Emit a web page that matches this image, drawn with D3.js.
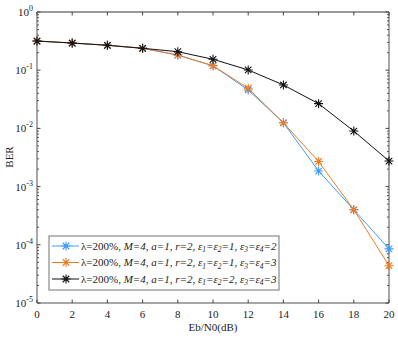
<!DOCTYPE html>
<html><head><meta charset="utf-8">
<script src="https://cdn.jsdelivr.net/npm/d3@7"></script>
<style>body{margin:0;background:#fff}svg{display:block}text{font-family:"Liberation Serif","Times New Roman",serif}</style>
</head><body>
<svg id="c" width="398" height="340"></svg>
<script>
const snr = [0,2,4,6,8,10,12,14,16,18,20];
const ber1 = [0.317,0.293,0.268,0.238,0.182,0.119,0.0457,0.0125,0.00185,0.0004,0.000085];
const ber2 = [0.317,0.293,0.268,0.238,0.182,0.119,0.049,0.0125,0.0027,0.0004,0.0000437];
const ber3 = [0.317,0.293,0.268,0.238,0.208,0.154,0.101,0.0557,0.0266,0.009,0.00275];
const xTicks = [0,2,4,6,8,10,12,14,16,18,20];
const yExps = [0,-1,-2,-3,-4,-5];
const colors = ["#3d9bff","#f07a22","#111111"];
const legendEps = [["1","1","2"],["1","1","3"],["2","2","3"]];

const svg = d3.select("#c");
const L=37,R=389,T=12,B=303;
const x = d3.scaleLinear().domain([0,20]).range([L,R]);
const y = d3.scaleLog().domain([1e-5,1]).range([B,T]);

const axisGray="#8a8a8a";
svg.append("line").attr("x1",L).attr("x2",R).attr("y1",T).attr("y2",T).attr("stroke","#333").attr("stroke-width",1);
svg.append("line").attr("x1",L).attr("x2",R).attr("y1",B).attr("y2",B).attr("stroke",axisGray).attr("stroke-width",1.5);
svg.append("line").attr("x1",L).attr("x2",L).attr("y1",T).attr("y2",B).attr("stroke",axisGray).attr("stroke-width",1.5);
svg.append("line").attr("x1",R).attr("x2",R).attr("y1",T).attr("y2",B).attr("stroke",axisGray).attr("stroke-width",1.5);

const gx = svg.append("g");
xTicks.forEach(t=>{
  gx.append("line").attr("x1",x(t)).attr("x2",x(t)).attr("y1",B).attr("y2",B-3.5).attr("stroke","#444");
  gx.append("line").attr("x1",x(t)).attr("x2",x(t)).attr("y1",T).attr("y2",T+3.5).attr("stroke","#444");
  gx.append("text").attr("x",x(t)).attr("y",B+15).attr("text-anchor","middle").attr("font-size",11).attr("fill","#222").text(t);
});
const gy = svg.append("g");
yExps.forEach(e=>{
  const v=Math.pow(10,e);
  gy.append("line").attr("x1",L).attr("x2",L+3.5).attr("y1",y(v)).attr("y2",y(v)).attr("stroke","#444");
  gy.append("line").attr("x1",R).attr("x2",R-3.5).attr("y1",y(v)).attr("y2",y(v)).attr("stroke","#444");
  const t=gy.append("text").attr("x",L-4).attr("y",y(v)+4).attr("text-anchor","end").attr("font-size",11).attr("fill","#222");
  t.append("tspan").text("10");
  t.append("tspan").attr("dy",-5).attr("font-size",8).text(e);
  if(e>-5){
    for(let m=2;m<=9;m++){
      const vv=v*m/10;
      gy.append("line").attr("x1",L).attr("x2",L+2).attr("y1",y(vv)).attr("y2",y(vv)).attr("stroke","#555");
      gy.append("line").attr("x1",R).attr("x2",R-2).attr("y1",y(vv)).attr("y2",y(vv)).attr("stroke","#555");
    }
  }
});

svg.append("text").attr("x",213).attr("y",331).attr("text-anchor","middle").attr("font-size",11).attr("fill","#222").text("Eb/N0(dB)");
svg.append("text").attr("transform","translate(13,157) rotate(-90)").attr("text-anchor","middle").attr("font-size",11).attr("fill","#222").text("BER");

function star(g,cx,cy,c,s){
  const p=`M${cx-s},${cy}H${cx+s}M${cx},${cy-s}V${cy+s}M${cx-s*0.72},${cy-s*0.72}L${cx+s*0.72},${cy+s*0.72}M${cx-s*0.72},${cy+s*0.72}L${cx+s*0.72},${cy-s*0.72}`;
  g.append("path").attr("d",p).attr("stroke",c).attr("stroke-width",1.1).attr("fill","none");
}
const series=[ber1,ber2,ber3];
const line=d3.line().x((d,i)=>x(snr[i])).y(d=>y(d));
series.forEach((s,k)=>{
  const g=svg.append("g");
  g.append("path").attr("d",line(s)).attr("fill","none").attr("stroke",colors[k]).attr("stroke-width",1);
  s.forEach((d,i)=>star(g,x(snr[i]),y(d),colors[k],4.5));
});

const lg=svg.append("g");
lg.append("rect").attr("x",49).attr("y",236).attr("width",230).attr("height",54).attr("fill","#fff").attr("stroke","#8a8a8a").attr("stroke-width",1.2);
const rows=[246,262.5,279];
rows.forEach((ry,k)=>{
  lg.append("line").attr("x1",52).attr("x2",79).attr("y1",ry).attr("y2",ry).attr("stroke",colors[k]).attr("stroke-width",1);
  star(lg,66,ry,colors[k],4.5);
  const t=lg.append("text").attr("x",81).attr("y",ry+3.5).attr("font-size",11).attr("fill","#222");
  t.append("tspan").text("λ=200%, ");
  const it=(s)=>t.append("tspan").attr("font-style","italic").text(s);
  it("M=4, a=1, r=2, ε");
  t.append("tspan").attr("font-style","italic").attr("font-size",7.5).attr("dy",2.5).text("1");
  t.append("tspan").attr("font-style","italic").attr("dy",-2.5).text("=ε");
  t.append("tspan").attr("font-style","italic").attr("font-size",7.5).attr("dy",2.5).text("2");
  t.append("tspan").attr("font-style","italic").attr("dy",-2.5).text("="+legendEps[k][0]+", ε");
  t.append("tspan").attr("font-style","italic").attr("font-size",7.5).attr("dy",2.5).text("3");
  t.append("tspan").attr("font-style","italic").attr("dy",-2.5).text("=ε");
  t.append("tspan").attr("font-style","italic").attr("font-size",7.5).attr("dy",2.5).text("4");
  t.append("tspan").attr("font-style","italic").attr("dy",-2.5).text("="+legendEps[k][2]);
});
</script>
</body></html>
